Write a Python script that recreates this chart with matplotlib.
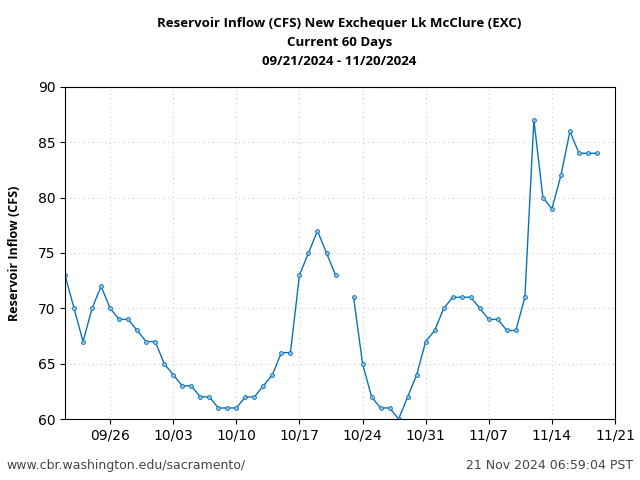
import matplotlib
matplotlib.use("Agg")
import matplotlib.pyplot as plt
import numpy as np
import pandas as pd

start = "2024-09-21"
inflow = [73, 70, 67, 70, 72, 70, 69, 69, 68, 67,
          67, 65, 64, 63, 63, 62, 62, 61, 61, 61,
          62, 62, 63, 64, 66, 66, 73, 75, 77, 75,
          73, np.nan, 71, 65, 62, 61, 61, 60, 62, 64,
          67, 68, 70, 71, 71, 71, 70, 69, 69, 68,
          68, 71, 87, 80, 79, 82, 86, 84, 84, 84]
tick_labels = ["09/26", "10/03", "10/10", "10/17", "10/24", "10/31", "11/07", "11/14", "11/21"]

dates = pd.date_range(start, periods=len(inflow), freq="D")
ticks = pd.to_datetime([f"2024-{t.replace('/', '-')}" for t in tick_labels])

fig = plt.figure(figsize=(6.4, 4.8), dpi=100)
ax = fig.add_axes([0.1016, 0.127, 0.8594, 0.692])
ax.plot(dates, inflow, color="#0a72b5", lw=1, marker="o", ms=2.8,
        mfc="#8cc0e6", mec="#0a72b5", mew=0.6)

ax.set_xlim(pd.Timestamp("2024-09-21"), pd.Timestamp("2024-11-21"))
ax.set_ylim(60, 90)
ax.set_xticks(ticks)
ax.set_xticklabels(tick_labels)
ax.grid(True, color="#cccccc", linestyle=(0, (1, 3)), lw=0.8)
ax.tick_params(labelsize=10)
ax.set_ylabel("Reservoir Inflow (CFS)", fontsize=9, fontweight="bold",
              family=["Open Sans", "DejaVu Sans"])
ax.yaxis.set_label_coords(-0.08, 0.5)

fig.text(0.53, 0.912, "Reservoir Inflow (CFS) New Exchequer Lk McClure (EXC)\nCurrent 60 Days\n09/21/2024 - 11/20/2024",
         ha="center", va="center", fontsize=9.5, fontweight="bold",
         family=["Open Sans", "DejaVu Sans"], linespacing=1.6)
fig.text(0.01, 0.022, "www.cbr.washington.edu/sacramento/", fontsize=9, color="#444444")
fig.text(0.99, 0.022, "21 Nov 2024 06:59:04 PST", fontsize=9, color="#444444", ha="right")

fig.savefig("out.png", dpi=100)
